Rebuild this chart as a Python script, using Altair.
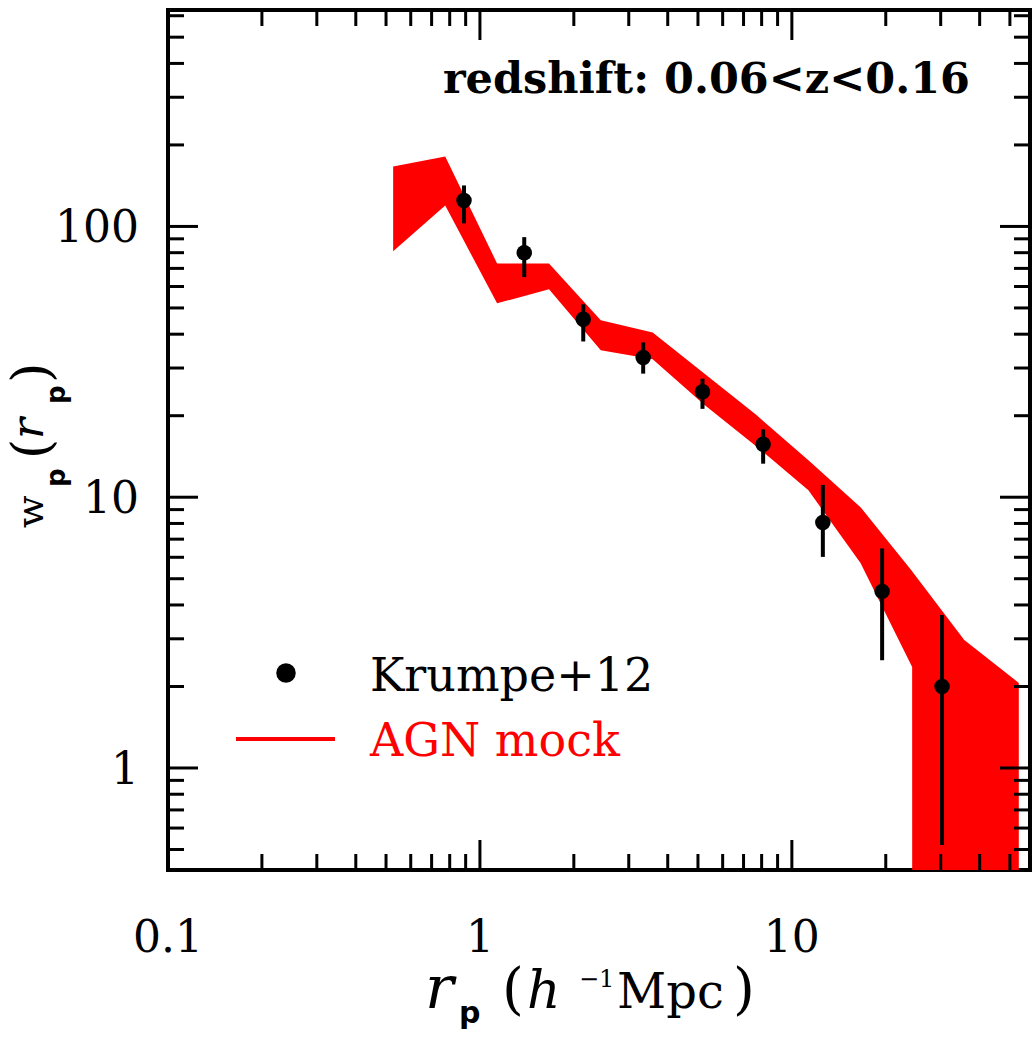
import altair as alt
import pandas as pd

# ---- Krumpe+12 measurements ----
rp_obs = [0.889, 1.387, 2.144, 3.337, 5.17, 8.09, 12.57, 19.47, 30.3]
wp_obs = [124.7, 80.0, 45.4, 32.8, 24.5, 15.7, 8.07, 4.49, 2.0]
wp_obs_hi = [141.7, 91.3, 51.6, 37.3, 27.4, 17.8, 11.1, 6.47, 3.67]
wp_obs_lo = [102.6, 65.0, 37.6, 28.6, 21.2, 13.3, 6.02, 2.50, 0.52]

# ---- AGN mock band (upper / lower envelope) ----
rp_mock = [0.527, 0.774, 1.135, 1.665, 2.44, 3.58, 5.25, 7.70, 11.3, 16.6, 24.3, 24.32, 35.7, 53.4]
wp_mock_hi = [166.5, 181.3, 73.0, 73.0, 45.0, 40.6, 28.6, 20.1, 13.7, 9.19, 5.33, 5.32, 2.97, 2.06]
wp_mock_lo = [80.9, 119.5, 52.0, 58.6, 34.9, 32.3, 21.9, 15.4, 10.6, 5.71, 2.36, 0.05, 0.05, 0.05]

# ---- ticks and tick labels ----
x_major = [0.1, 1, 10]
x_tick_labels = ["0.1", "1", "10"]
x_minor = [0.2, 0.3, 0.4, 0.5, 0.6, 0.7, 0.8, 0.9, 2, 3, 4, 5, 6, 7, 8, 9, 20, 30, 40, 50]
y_major = [1, 10, 100]
y_tick_labels = ["1", "10", "100"]
y_minor = [0.5, 0.6, 0.7, 0.8, 0.9, 2, 3, 4, 5, 6, 7, 8, 9,
           20, 30, 40, 50, 60, 70, 80, 90, 200, 300, 400, 500, 600]

W, H = 862, 860
OX, OY = 168, 10          # plot origin on the page
FONT = "DejaVu Serif"
SANS = "DejaVu Sans"
MAJ, MIN = 30, 16

xs = alt.Scale(type="log", domain=[0.1, 58], nice=False)
ys = alt.Scale(type="log", domain=[0.42, 630], nice=False)

obs = pd.DataFrame({"rp": rp_obs, "wp": wp_obs, "hi": wp_obs_hi, "lo": wp_obs_lo})
mock = pd.DataFrame({"rp": rp_mock, "hi": wp_mock_hi, "lo": wp_mock_lo})

band = alt.Chart(mock).mark_area(color="#ff0000", opacity=1, clip=True).encode(
    x=alt.X("rp:Q", scale=xs, axis=None),
    y=alt.Y("hi:Q", scale=ys, axis=None),
    y2=alt.Y2("lo:Q"),
)

errs = alt.Chart(obs).mark_rule(color="black", strokeWidth=4, clip=True).encode(
    x=alt.X("rp:Q", scale=xs, axis=None),
    y=alt.Y("lo:Q", scale=ys, axis=None),
    y2="hi:Q",
)

pts = alt.Chart(obs).mark_circle(color="black", opacity=1, size=240).encode(
    x=alt.X("rp:Q", scale=xs, axis=None),
    y=alt.Y("wp:Q", scale=ys, axis=None),
)


def xticks(vals, L):
    d = pd.DataFrame({"v": vals})
    bot = alt.Chart(d).mark_rule(color="black", strokeWidth=3).encode(
        x=alt.X("v:Q", scale=xs, axis=None), y=alt.value(H), y2=alt.value(H - L))
    top = alt.Chart(d).mark_rule(color="black", strokeWidth=3).encode(
        x=alt.X("v:Q", scale=xs, axis=None), y=alt.value(0), y2=alt.value(L))
    return [bot, top]


def yticks(vals, L):
    d = pd.DataFrame({"v": vals})
    left = alt.Chart(d).mark_rule(color="black", strokeWidth=3).encode(
        y=alt.Y("v:Q", scale=ys, axis=None), x=alt.value(0), x2=alt.value(L))
    right = alt.Chart(d).mark_rule(color="black", strokeWidth=3).encode(
        y=alt.Y("v:Q", scale=ys, axis=None), x=alt.value(W), x2=alt.value(W - L))
    return [left, right]


xlab = alt.Chart(pd.DataFrame({"v": x_major, "t": x_tick_labels})).mark_text(
    font=FONT, fontSize=44, color="black", align="center", baseline="alphabetic").encode(
    x=alt.X("v:Q", scale=xs, axis=None), y=alt.value(952 - OY), text="t:N")
ylab = alt.Chart(pd.DataFrame({"v": y_major, "t": y_tick_labels})).mark_text(
    font=FONT, fontSize=44, color="black", align="right", baseline="alphabetic", dy=16).encode(
    y=alt.Y("v:Q", scale=ys, axis=None), x=alt.value(139 - OX), text="t:N")

one = pd.DataFrame({"a": [0]})


def txt(s, px, py, size, font=FONT, weight="normal", style="normal", angle=0,
        align="left", baseline="alphabetic", color="black"):
    return alt.Chart(one).mark_text(
        text=s, font=font, fontSize=size, fontWeight=weight, fontStyle=style,
        angle=angle, align=align, baseline=baseline, color=color).encode(
        x=alt.value(px - OX), y=alt.value(py - OY))


# x-axis title: r_p (h^-1 Mpc)
xtitle = [
    txt("r", 425, 1008, 60, style="italic"),
    txt("p", 459, 1023, 30, font=SANS, weight="bold"),
    txt("(", 502, 1008, 56),
    txt("h", 527, 1008, 52, style="italic"),
    txt("\u22121", 579, 987, 24),
    txt("Mpc", 617, 1008, 48),
    txt(")", 733, 1008, 56),
]
# y-axis title: w_p(r_p), rotated
ytitle = [
    txt("w", 43, 528, 38, angle=270),
    txt("p", 65, 487, 26, font=SANS, weight="bold", angle=270),
    txt("(", 49, 459, 52, angle=270),
    txt("r", 43, 439, 44, style="italic", angle=270),
    txt("p", 65, 404, 26, font=SANS, weight="bold", angle=270),
    txt(")", 49, 383, 52, angle=270),
]

leg_dot = alt.Chart(one).mark_circle(color="black", opacity=1, size=380).encode(
    x=alt.value(286 - OX), y=alt.value(673 - OY))
leg_line = alt.Chart(one).mark_rule(color="#ff0000", strokeWidth=4).encode(
    x=alt.value(236 - OX), x2=alt.value(335 - OX), y=alt.value(739 - OY))
legend = [
    leg_dot, leg_line,
    txt("Krumpe+12", 370, 677, 46, baseline="middle"),
    txt("AGN mock", 370, 742, 46, baseline="middle", color="#ff0000"),
    txt("redshift:  0.06<z<0.16", 970, 80, 43, weight="bold", align="right",
        baseline="middle"),
]

layers = [band, errs, pts] + xticks(x_major, MAJ) + xticks(x_minor, MIN) \
    + yticks(y_major, MAJ) + yticks(y_minor, MIN) + [xlab, ylab] + xtitle + ytitle + legend

chart = alt.layer(*layers).properties(
    width=W, height=H,
    autosize=alt.AutoSizeParams(type="none"),
    padding={"left": OX, "top": OY, "right": 4, "bottom": 167},
    background="white",
).configure_view(stroke="black", strokeWidth=4)

chart.save("out.html", embed_options={"renderer": "svg", "actions": False})
